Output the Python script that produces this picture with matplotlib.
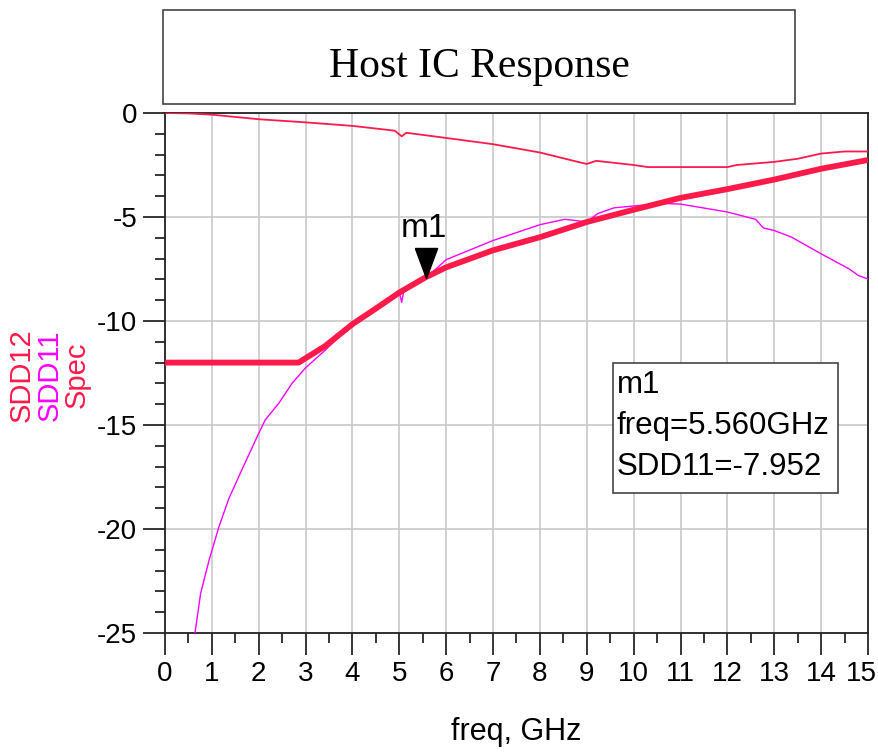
import matplotlib
matplotlib.use("Agg")
import matplotlib.pyplot as plt
import matplotlib.patches as patches
import matplotlib.transforms as mtransforms
from matplotlib.ticker import MultipleLocator

# data
spec_f = [0, 2.85, 3.42, 4, 4.48, 5, 5.56, 6, 7, 8, 9, 10, 11, 12, 13, 14, 15]
spec_db = [-12, -12, -11.2, -10.15, -9.43, -8.63, -7.9, -7.42, -6.6, -5.97,
           -5.24, -4.65, -4.08, -3.66, -3.2, -2.68, -2.26]

sdd11_f = [0.64, 0.76, 0.94, 1.15, 1.36, 1.61, 2.0, 2.14, 2.43, 2.71, 3.0, 3.42,
           4.0, 4.48, 5.0, 5.05, 5.1, 5.56, 6, 7, 8, 8.53, 8.88, 9.0, 9.23, 9.58,
           10, 10.65, 11, 11.37, 12, 12.6, 12.77, 13, 13.37, 14, 14.6, 14.8, 15]
sdd11_db = [-25, -23.1, -21.5, -19.9, -18.55, -17.3, -15.4, -14.75, -13.95, -13.0,
            -12.25, -11.4, -10.15, -9.35, -8.6, -9.1, -8.5, -7.95, -7.05, -6.13,
            -5.37, -5.11, -5.2, -5.24, -4.84, -4.56, -4.47, -4.35, -4.38, -4.52,
            -4.76, -5.11, -5.53, -5.65, -5.97, -6.77, -7.5, -7.82, -7.98]

sdd12_f = [0, 0.5, 1, 2, 3, 4, 4.9, 5.05, 5.15, 6, 7, 8, 8.9, 9.0, 9.2, 10, 10.3,
           12, 12.2, 13, 13.5, 14, 14.5, 15]
sdd12_db = [0, -0.02, -0.08, -0.3, -0.45, -0.62, -0.85, -1.12, -0.95, -1.2, -1.5,
            -1.9, -2.4, -2.45, -2.3, -2.5, -2.6, -2.6, -2.5, -2.35, -2.2, -1.95,
            -1.85, -1.85]

x_ticks = list(range(0, 16))
y_ticks = [0, -5, -10, -15, -20, -25]

m1_f = 5.56
m1_db = -7.952

RED = '#ff1a4a'
MAG = '#ff00ff'
SANS = ['Liberation Sans', 'DejaVu Sans']

plt.rcParams['axes.unicode_minus'] = False

fig = plt.figure(figsize=(8.79, 7.52), dpi=100)
ax = fig.add_axes([165 / 879, 1 - 633 / 752, 703 / 879, 520 / 752])

ax.plot(sdd12_f, sdd12_db, color=RED, lw=1.3, zorder=3)
ax.plot(sdd11_f, sdd11_db, color=MAG, lw=1.0, zorder=3)
ax.plot(spec_f, spec_db, color=RED, lw=4.2, zorder=4, solid_capstyle='butt')

# marker m1
tri = [(-0.37, 0.5), (0.37, 0.5), (0, -0.5), (-0.37, 0.5)]
off = mtransforms.offset_copy(ax.transData, fig=fig, x=0, y=15, units='dots')
ax.plot([m1_f], [m1_db], marker=tri, ms=21.6, color='black', transform=off,
        zorder=6, clip_on=False)
off2 = mtransforms.offset_copy(ax.transData, fig=fig, x=-2, y=50, units='dots')
ax.text(m1_f, m1_db, 'm1', transform=off2, ha='center', va='center',
        fontsize=24, family=SANS, zorder=6)

ax.set_xlim(0, 15)
ax.set_ylim(-25, 0)
ax.set_xticks(x_ticks)
ax.set_yticks(y_ticks)
ax.xaxis.set_minor_locator(MultipleLocator(0.5))
ax.yaxis.set_minor_locator(MultipleLocator(1))
ax.grid(which='major', color='#c8c8c8', lw=1.2)
ax.set_axisbelow(True)
ax.tick_params(which='major', direction='out', length=16, width=1.1, pad=4,
               labelsize=20, top=False, right=False)
ax.tick_params(which='minor', direction='out', length=7, width=1.1,
               top=False, right=False)
for lab in ax.get_xticklabels() + ax.get_yticklabels():
    lab.set_family(SANS)
# pull the last x label in so it stays on the canvas
last = ax.get_xticklabels()[-1]
last.set_transform(last.get_transform() +
                   mtransforms.ScaledTranslation(-7 / 100, 0, fig.dpi_scale_trans))
for s in ax.spines.values():
    s.set_linewidth(1.3)
    s.set_color('#222222')

ax.set_xlabel('freq, GHz', fontsize=22, family=SANS, labelpad=22)

# stacked y labels
for x, txt, col in [(22, 'SDD12', RED), (50, 'SDD11', MAG), (77, 'Spec', RED)]:
    fig.text(x / 879, 1 - 375 / 752, txt, rotation=90, ha='center', va='center',
             fontsize=21, family=SANS, color=col)

# title box
fig.patches.append(patches.Rectangle((163 / 879, 1 - 104 / 752), 632 / 879, 94 / 752,
                                     transform=fig.transFigure, fill=False,
                                     edgecolor='#444444', lw=1.2))
fig.text(479 / 879, 1 - 67 / 752, 'Host IC Response', ha='center', va='center',
         fontsize=30, family=['Liberation Serif', 'DejaVu Serif'])

# marker readout box
fig.patches.append(patches.Rectangle((613 / 879, 1 - 493 / 752), 225 / 879, 130 / 752,
                                     transform=fig.transFigure, facecolor='white',
                                     edgecolor='#444444', lw=1.2, zorder=5))
for y, txt in [(385, 'm1'), (426, 'freq=%.3fGHz' % m1_f), (467, 'SDD11=%.3f' % m1_db)]:
    fig.text(617 / 879, 1 - y / 752, txt, ha='left', va='center', fontsize=22.5,
             family=SANS, zorder=6)

fig.savefig('out.png', dpi=100)
